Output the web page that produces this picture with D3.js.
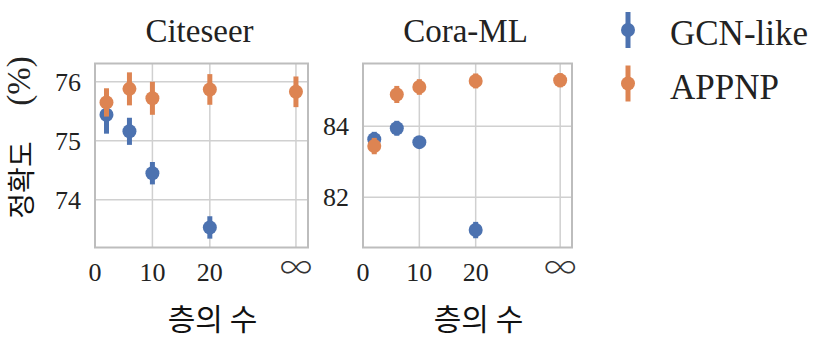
<!DOCTYPE html>
<html>
<head>
<meta charset="utf-8">
<script src="https://cdn.jsdelivr.net/npm/d3@7"></script>
<style>
  body { margin: 0; background: #fff; }
  .serif { font-family: "Liberation Serif", "DejaVu Serif", serif; fill: #222; }
  .kr { font-family: "Noto Sans CJK KR", sans-serif; fill: #111; }
  .inf { font-family: "Noto Sans CJK JP", sans-serif; font-weight: 300; fill: #333; }
</style>
</head>
<body>
<div id="chart-area"></div>
<script>
// number of layers; infinity is drawn at position 35
var layerPos = [2, 6, 10, 20, 35];
var xTickVals = [0, 10, 20, 35];
var xTickLabels = ["0", "10", "20", "∞"];

var citeseerGcn = [75.44, 75.16, 74.45, 73.53];
var citeseerGcnErr = [0.32, 0.23, 0.19, 0.19];
var citeseerAppnp = [75.65, 75.88, 75.72, 75.87, 75.83];
var citeseerAppnpErr = [0.24, 0.28, 0.28, 0.26, 0.26];

var coraGcn = [83.63, 83.94, 83.55, 81.08];
var coraGcnErr = [0.21, 0.21, 0.17, 0.23];
var coraAppnp = [83.44, 84.89, 85.10, 85.27, 85.29];
var coraAppnpErr = [0.23, 0.24, 0.22, 0.21, 0.2];

var seriesNames = ["GCN-like", "APPNP"];
var colors = ["#4c72b0", "#dd8452"];

var svg = d3.select("#chart-area").append("svg")
    .attr("width", 820)
    .attr("height", 352);

var panels = [
  {title: "Citeseer", left: 95, right: 308, yDomain: [73.19, 76.31], yTicks: [74, 75, 76],
   series: [[citeseerGcn, citeseerGcnErr], [citeseerAppnp, citeseerAppnpErr]]},
  {title: "Cora-ML", left: 363, right: 572, yDomain: [80.59, 85.76], yTicks: [82, 84],
   series: [[coraGcn, coraGcnErr], [coraAppnp, coraAppnpErr]]}
];
var plotTop = 63.5, plotBottom = 247.5;

panels.forEach((p) => {
  var x = d3.scaleLinear().domain([0, 37.1]).range([p.left, p.right]);
  var y = d3.scaleLinear().domain(p.yDomain).range([plotBottom, plotTop]);
  var g = svg.append("g");

  // grid
  g.selectAll(".vg").data(xTickVals.slice(1)).enter().append("line")
    .attr("x1", (d) => x(d)).attr("x2", (d) => x(d))
    .attr("y1", plotTop).attr("y2", plotBottom)
    .attr("stroke", "#d0d0d0").attr("stroke-width", 1.5);
  g.selectAll(".hg").data(p.yTicks).enter().append("line")
    .attr("x1", p.left).attr("x2", p.right)
    .attr("y1", (d) => y(d)).attr("y2", (d) => y(d))
    .attr("stroke", "#d0d0d0").attr("stroke-width", 1.5);

  // frame
  g.append("rect")
    .attr("x", p.left).attr("y", plotTop)
    .attr("width", p.right - p.left).attr("height", plotBottom - plotTop)
    .attr("fill", "none").attr("stroke", "#bdbdbd").attr("stroke-width", 2);

  // tick labels
  g.selectAll(".xt").data(xTickVals).enter().append("text")
    .attr("class", (d, i) => xTickLabels[i] === "∞" ? "inf" : "serif")
    .attr("x", (d) => x(d)).attr("y", (d, i) => xTickLabels[i] === "∞" ? 279 : 281)
    .attr("text-anchor", "middle")
    .attr("font-size", (d, i) => xTickLabels[i] === "∞" ? 32 : 26)
    .text((d, i) => xTickLabels[i]);
  g.selectAll(".yt").data(p.yTicks).enter().append("text")
    .attr("class", "serif")
    .attr("x", p.left - 14).attr("y", (d) => y(d) + 9)
    .attr("text-anchor", "end")
    .attr("font-size", 26)
    .text((d) => d);

  // title
  g.append("text").attr("class", "serif")
    .attr("x", (p.left + p.right) / 2 - 2).attr("y", 42)
    .attr("text-anchor", "middle").attr("font-size", 33)
    .text(p.title);

  // x label
  g.append("text").attr("class", "kr")
    .attr("x", (p.left + p.right) / 2 + 11).attr("y", 330)
    .attr("text-anchor", "middle").attr("font-size", 30)
    .text("층의 수");

  // points with error bars
  p.series.forEach((s, si) => {
    var pts = s[0].map((v, i) => ({x: layerPos[i], v: v, e: s[1][i]}));
    var sg = g.append("g");
    sg.selectAll("line").data(pts).enter().append("line")
      .attr("x1", (d) => x(d.x)).attr("x2", (d) => x(d.x))
      .attr("y1", (d) => y(d.v - d.e)).attr("y2", (d) => y(d.v + d.e))
      .attr("stroke", colors[si]).attr("stroke-width", 5);
    sg.selectAll("circle").data(pts).enter().append("circle")
      .attr("cx", (d) => x(d.x)).attr("cy", (d) => y(d.v))
      .attr("r", 7).attr("fill", colors[si]);
  });
});

// y label
svg.append("text").attr("class", "kr")
  .attr("transform", "translate(32,180) rotate(-90)")
  .attr("text-anchor", "middle").attr("font-size", 28)
  .text("정확도");
svg.append("text").attr("class", "serif")
  .attr("transform", "translate(30,81) rotate(-90)")
  .attr("text-anchor", "middle").attr("font-size", 33)
  .text("(%)");

// legend
var legend = svg.selectAll(".leg").data(seriesNames).enter().append("g")
  .attr("transform", (d, i) => "translate(628," + (30 + i * 53.5) + ")");
legend.append("line")
  .attr("y1", -18).attr("y2", 18)
  .attr("stroke", (d, i) => colors[i]).attr("stroke-width", 5);
legend.append("circle").attr("r", 7).attr("fill", (d, i) => colors[i]);
legend.append("text").attr("class", "serif")
  .attr("x", 42).attr("y", 15).attr("font-size", 35)
  .text((d) => d);
</script>
</body>
</html>
